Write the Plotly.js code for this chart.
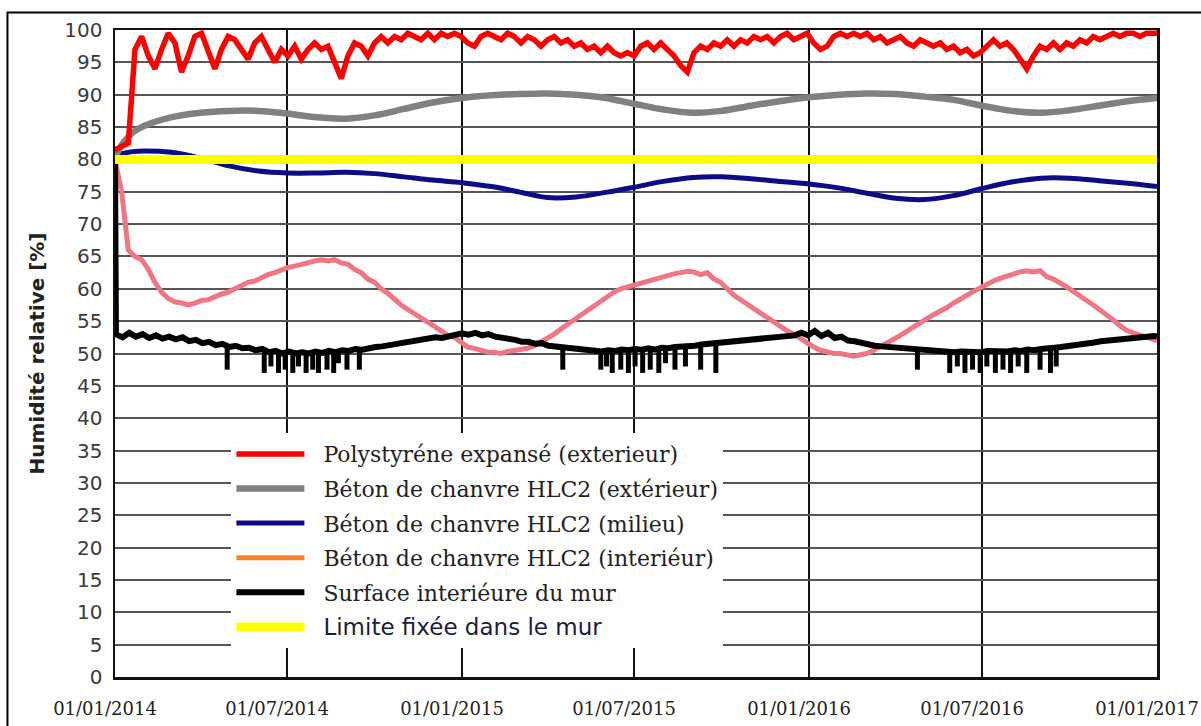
<!DOCTYPE html>
<html>
<head>
<meta charset="utf-8">
<script src="https://cdn.plot.ly/plotly-3.0.1.min.js"></script>
<style>
html,body{margin:0;padding:0;background:#fff;}
#chart{width:1201px;height:726px;}
</style>
</head>
<body>
<div id="chart"></div>
<script>
// ---------- DATA ----------
const seriesNames = [
  'Polystyréne expansé (exterieur)',
  'Béton de chanvre HLC2 (extérieur)',
  'Béton de chanvre HLC2 (milieu)',
  'Béton de chanvre HLC2 (interiéur)',
  'Surface interiéure du mur',
  'Limite fixée dans le mur'
];

const tickDates = ['2014-01-01','2014-07-01','2015-01-01','2015-07-01','2016-01-01','2016-07-01','2017-01-01'];
const tickLabels = ['01/01/2014','01/07/2014','01/01/2015','01/07/2015','01/01/2016','01/07/2016','01/01/2017'];

// smooth series (gray / blue)
const smoothDates = ['2014-01-01','2014-01-05','2014-01-12','2014-01-20',
  '2014-02-01','2014-03-01','2014-04-01','2014-05-01','2014-06-01','2014-07-01','2014-08-01','2014-09-01','2014-10-01','2014-11-01','2014-12-01',
  '2015-01-01','2015-02-01','2015-03-01','2015-04-01','2015-05-01','2015-06-01','2015-07-01','2015-08-01','2015-09-01','2015-10-01','2015-11-01','2015-12-01',
  '2016-01-01','2016-02-01','2016-03-01','2016-04-01','2016-05-01','2016-06-01','2016-07-01','2016-08-01','2016-09-01','2016-10-01','2016-11-01','2016-12-01',
  '2017-01-01'];
const grayValues = [80,81.5,83,84.2,
  85.2,86.5,87.2,87.5,87.5,87.1,86.5,86.3,86.8,87.8,88.8,
  89.5,89.9,90.1,90.2,90,89.5,88.6,87.7,87.2,87.5,88.3,89,
  89.6,90,90.2,90.1,89.7,89.2,88.3,87.5,87.2,87.6,88.3,89,
  89.5];
const blueValues = [80.5,80.8,81,81.2,
  81.3,81.1,80.2,79,78.2,77.9,77.9,78,77.8,77.3,76.8,
  76.4,75.8,75,74.1,74.2,74.9,75.7,76.6,77.2,77.3,77,76.6,
  76.2,75.6,74.8,74,73.8,74.4,75.5,76.5,77.1,77.1,76.7,76.3,
  75.8];

const limitDates = ['2014-01-01','2017-01-01'];
const limitValues = [80,80];

// weekly series starting 2014-01-01
const redValues = [
  81.5,82,82.5,97,99,96,94,97,99.5,98,
  93.5,96,99,99.5,97,94,97,99,98.5,97,
  95.5,98,99,97,95,97,96,97.5,95.5,97,
  98,97,97.5,95,92.5,96,98,97.5,96,98,
  99,98,99,98.5,99.5,99,98.5,99.5,98.5,99.5,
  99,99.5,99,98,97.5,99,99.5,99,98.5,99.5,
  99,98,99,98.5,97.5,98.5,99,98,98.5,97.5,
  98,97,97.5,96.5,97.5,96.5,96,96.5,96,97.5,
  98,97,98,97,96,94.5,93.5,96.5,97.5,97,
  98,97.5,98.5,97.5,98.5,98,99,98.5,99,98,
  99,99.5,98.5,99,99.5,98,97,97.5,99,99.5,
  99,99.5,99,99.5,98.5,99,98,98.5,99,98,
  97.5,98.5,98,97.5,98,97,97.5,96.5,97,96,
  96.5,97.5,98.5,97.5,98,97,95.5,94,96,97.5,
  97,98,97,98,97.5,98.5,98,99,98.5,99,
  99.5,99,99.5,99.5,99,99.5,99.5,
  99.5];

const pinkValues = [
  80,75,66,65,64.5,63,61,59.5,58.5,58,
  57.8,57.5,57.8,58.2,58.3,58.8,59.2,59.5,60,60.5,
  61,61.2,61.8,62.2,62.5,63,63.3,63.5,63.8,64,
  64.3,64.5,64.3,64.5,64,63.8,63,62.5,61.5,61,
  60,59.3,58.3,57.5,56.8,56.2,55.5,54.8,54.2,53.5,
  52.8,52.5,51.8,51,50.8,50.5,50.2,50.2,50,50.3,
  50.5,50.6,50.8,51.2,51.8,52.3,53,53.8,54.5,55.3,
  56,56.8,57.5,58.2,58.8,59.5,60,60.3,60.5,61,
  61.3,61.5,61.8,62,62.3,62.5,62.7,62.6,62.2,62.5,
  61.5,61,60,59,58.3,57.6,57,56.3,55.6,55,
  54.2,53.5,53,52.3,51.6,51,50.5,50.2,50,50,
  49.8,49.6,49.8,50,50.5,51,51.5,52.2,52.8,53.5,
  54,54.8,55.4,56,56.5,57.1,57.8,58.3,59,59.6,
  60.2,60.7,61.2,61.6,62,62.3,62.6,62.8,62.6,62.8,
  61.9,61.5,61,60.3,59.6,59,58.2,57.5,56.8,56,
  55.2,54.3,53.6,53.2,52.9,52.5,52.2,
  52];

// black: first value on 2014-01-01, then weekly from 2014-01-02
const blackValues = [
  80,
  53,52.5,53.2,52.6,53,52.4,52.8,52.3,52.6,52.2,
  52.5,51.9,52.1,51.6,51.8,51.3,51.5,51,51.2,50.8,
  50.9,50.5,50.7,50.2,50.4,50,50.3,50,50.2,50,
  50.3,50.1,50.4,50.2,50.5,50.4,50.7,50.6,50.9,51,
  51.1,51.3,51.5,51.6,51.8,52,52.1,52.3,52.5,52.4,
  52.7,52.8,53.1,52.9,53.2,52.8,53,52.6,52.5,52.2,
  52.1,51.8,51.8,51.5,51.6,51.2,51.1,50.9,50.8,50.6,
  50.5,50.4,50.5,50.3,50.5,50.4,50.6,50.5,50.7,50.6,
  50.8,50.6,50.9,50.8,51,51,51.2,51.2,51.4,51.5,
  51.6,51.7,51.9,51.9,52,52.1,52.2,52.3,52.4,52.4,
  52.6,52.6,52.8,53.2,52.8,53.5,52.7,53.2,52.4,52.6,
  52,51.9,51.6,51.5,51.2,51.1,51,50.9,50.8,50.7,
  50.7,50.5,50.5,50.4,50.3,50.3,50.2,50.3,50.2,50.3,
  50.2,50.4,50.3,50.4,50.3,50.5,50.4,50.6,50.5,50.7,
  50.7,50.9,51,51.1,51.3,51.4,51.6,51.7,51.9,52,
  52.2,52.3,52.4,52.5,52.6,52.5,52.7,
  52.6];

// short downward spikes of the inner-surface humidity
const spikeDates = [
  '2014-04-29','2014-06-07','2014-06-14','2014-06-22','2014-06-29','2014-07-07','2014-07-13','2014-07-21','2014-07-28','2014-08-03','2014-08-12','2014-08-19','2014-08-24','2014-09-02','2014-09-15',
  '2015-04-17','2015-05-27','2015-06-02','2015-06-08','2015-06-17','2015-06-25','2015-07-02','2015-07-10','2015-07-18','2015-07-27','2015-08-03','2015-08-13','2015-08-24','2015-09-09','2015-09-25',
  '2016-04-24','2016-05-28','2016-06-05','2016-06-13','2016-06-21','2016-06-29','2016-07-06','2016-07-15','2016-07-23','2016-07-31','2016-08-08','2016-08-17','2016-08-31','2016-09-11','2016-09-17'
];
const spikeTops = [
  51.2,50.5,50.4,50.3,50.2,50.2,50.1,50.2,50.1,50.2,50.3,50.3,50.4,50.5,50.7,
  50.9,50.5,50.4,50.5,50.4,50.5,50.6,50.5,50.6,50.7,50.8,50.8,50.9,51,51.2,
  50.7,50.4,50.3,50.3,50.3,50.2,50.3,50.3,50.4,50.4,50.4,50.5,50.6,50.8,50.9
];
const spikeLows = [
  47.5,47,48,47,47.5,47,48,47,47.5,47,47.5,47,48.5,47.5,47.5,
  47.5,47.5,48,47,47.5,47,48,47,47.5,47,48.5,47.5,48,47.5,47,
  47.5,47,48,47,47.5,47,48,47,47.5,47,48,47,47.5,47,48
];

// ---------- helpers ----------
const END = Date.UTC(2017,0,1);
function weeklyDates(start, n){
  const t0 = Date.parse(start + 'T00:00:00Z');
  const out = [];
  for(let i=0;i<n;i++){
    const t = Math.min(t0 + i*7*86400000, END);
    out.push(new Date(t).toISOString().slice(0,10));
  }
  return out;
}

const redDates = weeklyDates('2014-01-01', redValues.length);
const pinkDates = weeklyDates('2014-01-01', pinkValues.length);
const blackDates = ['2014-01-01'].concat(weeklyDates('2014-01-02', blackValues.length-1));

const spikeX = [], spikeY = [];
spikeDates.forEach((d,i)=>{ spikeX.push(d,d,null); spikeY.push(spikeTops[i], spikeLows[i], null); });

// ---------- traces ----------
const colors = ['#ff0000','#808080','#0c0c86','#ff7f2a','#000000','#ffff00'];
const pinkColor = '#f07684';
const pad = '\u00a0\u00a0';

const traces = [
  {x:pinkDates, y:pinkValues, type:'scatter', mode:'lines', line:{color:pinkColor, width:5}, showlegend:false, hoverinfo:'skip'},
  {x:[tickDates[0]], y:[null], type:'scatter', mode:'lines', name:pad+seriesNames[3], line:{color:colors[3], width:5},
    legendgroup:'g4', legendrank:4},
  {x:blackDates, y:blackValues, type:'scatter', mode:'lines', name:pad+seriesNames[4], line:{color:colors[4], width:6},
    legendgroup:'g5', legendrank:5},
  {x:spikeX, y:spikeY, type:'scatter', mode:'lines', line:{color:colors[4], width:5}, showlegend:false, legendgroup:'g5', hoverinfo:'skip', connectgaps:false},
  {x:smoothDates, y:blueValues, type:'scatter', mode:'lines', name:pad+seriesNames[2], line:{color:colors[2], width:5, shape:'spline'},
    legendgroup:'g3', legendrank:3},
  {x:smoothDates, y:grayValues, type:'scatter', mode:'lines', name:pad+seriesNames[1], line:{color:colors[1], width:6.5, shape:'spline'},
    legendgroup:'g2', legendrank:2},
  {x:redDates, y:redValues, type:'scatter', mode:'lines', name:pad+seriesNames[0], line:{color:colors[0], width:5.5},
    legendgroup:'g1', legendrank:1},
  {x:limitDates, y:limitValues, type:'scatter', mode:'lines',
    name:pad+'<span style="font-family:DejaVu Sans;font-size:23px;color:#1c1c3c">'+seriesNames[5]+'</span>',
    line:{color:colors[5], width:9}, legendgroup:'g6', legendrank:6}
];

const layout = {
  width:1201, height:726,
  margin:{l:115, r:44, t:30, b:49},
  paper_bgcolor:'#ffffff', plot_bgcolor:'#ffffff',
  font:{family:'DejaVu Sans', color:'#333'},
  showlegend:true,
  xaxis:{
    type:'date', range:['2014-01-01','2017-01-01'],
    tickmode:'array', tickvals:tickDates, ticktext:tickLabels,
    showgrid:true, gridcolor:'#111', gridwidth:1.5,
    showline:true, mirror:true, linecolor:'#111', linewidth:2.5,
    ticks:'', zeroline:false,
    tickfont:{family:'DejaVu Serif', size:18, color:'#222'},
    ticklabelshift:-10, ticklabelstandoff:14, ticklabeloverflow:'allow'
  },
  yaxis:{
    range:[0,100], tickmode:'linear', tick0:0, dtick:5,
    showgrid:true, gridcolor:'#555', gridwidth:2,
    showline:true, mirror:true, linecolor:'#111', linewidth:2.5,
    ticks:'', zeroline:false,
    tickfont:{family:'DejaVu Sans', size:20, color:'#3a3a3a'},
    ticklabelstandoff:6,
    title:{text:'Humidité relative [%]', font:{family:'DejaVu Sans', size:20, weight:'bold', color:'#222'}, standoff:15}
  },
  legend:{
    x:0.1117, y:0.377, xanchor:'left', yanchor:'top',
    bgcolor:'#ffffff', borderwidth:0,
    font:{family:'DejaVu Serif', size:22, color:'#222'},
    itemwidth:68, traceorder:'grouped', tracegroupgap:3
  },
  shapes:[
    {type:'rect', xref:'paper', yref:'paper', x0:-0.1032, x1:1.1, y0:-0.2, y1:1.0271,
     line:{color:'#000', width:2}, fillcolor:'rgba(0,0,0,0)', layer:'below'}
  ]
};

Plotly.newPlot('chart', traces, layout, {displayModeBar:false, staticPlot:true});
</script>
</body>
</html>
